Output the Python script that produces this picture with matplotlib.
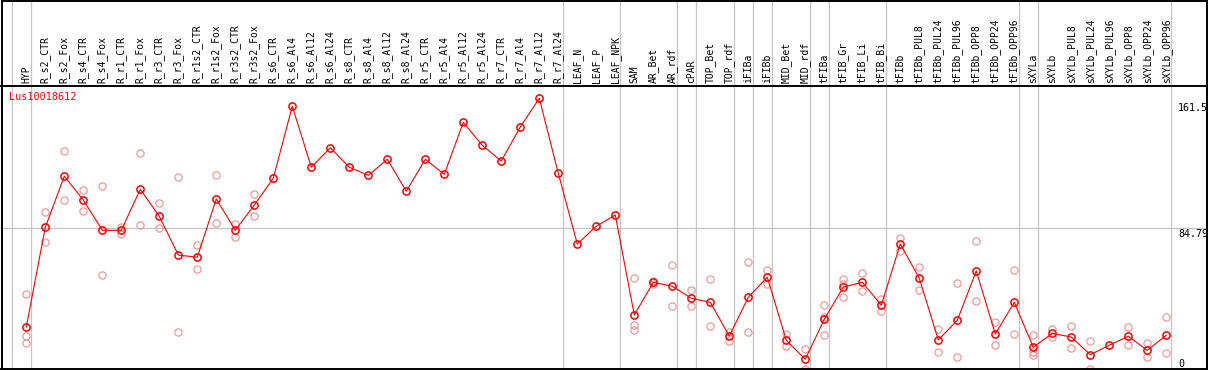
import matplotlib
matplotlib.use("Agg")
import matplotlib.pyplot as plt
from matplotlib.lines import Line2D

gene = "Lus10018612"

samples = ["HYP", "R_s2_CTR", "R_s2_Fox", "R_s4_CTR", "R_s4_Fox", "R_r1_CTR", "R_r1_Fox",
           "R_r3_CTR", "R_r3_Fox", "R_r1s2_CTR", "R_r1s2_Fox", "R_r3s2_CTR", "R_r3s2_Fox",
           "R_s6_CTR", "R_s6_Al4", "R_s6_Al12", "R_s6_Al24", "R_s8_CTR", "R_s8_Al4",
           "R_s8_Al12", "R_s8_Al24", "R_r5_CTR", "R_r5_Al4", "R_r5_Al12", "R_r5_Al24",
           "R_r7_CTR", "R_r7_Al4", "R_r7_Al12", "R_r7_Al24", "LEAF_N", "LEAF_P", "LEAF_NPK",
           "SAM", "AR_Bet", "AR_rdf", "cPAR", "TOP_Bet", "TOP_rdf", "iFIBa", "iFIBb",
           "MID_Bet", "MID_rdf", "tFIBa", "tFIB_Gr", "tFIB_Li", "tFIB_Bi", "tFIBb",
           "tFIBb_PUL8", "tFIBb_PUL24", "tFIBb_PUL96", "tFIBb_OPP8", "tFIBb_OPP24",
           "tFIBb_OPP96", "sXYLa", "sXYLb", "sXYLb_PUL8", "sXYLb_PUL24", "sXYLb_PUL96",
           "sXYLb_OPP8", "sXYLb_OPP24", "sXYLb_OPP96"]

means = [26.5, 85.4, 115.5, 101.5, 83.6, 83.6, 107.8, 91.9, 69.0, 67.7, 102.1, 83.6, 98.5,
         114.3, 156.8, 120.8, 132.3, 120.8, 116.0, 125.5, 106.6, 125.5, 116.6, 147.3, 133.7,
         124.5, 144.5, 161.5, 117.2, 75.5, 86.0, 92.6,
         33.6, 52.9, 50.6, 43.5, 41.1, 21.2, 44.1, 55.9, 18.7, 7.5, 31.1, 50.1, 52.9, 39.4,
         75.5, 55.3, 18.9, 30.5, 59.6, 22.4, 41.1, 14.6, 22.8, 20.6, 10.2, 15.8, 21.1, 12.8,
         21.7]

replicates = [[45.8, 21.4, 16.9], [94.2, 76.9], [130.2, 101.3], [107.2, 94.8], [109.6, 57.1],
              [85.7, 81.4], [129.0, 86.5], [99.5, 84.8], [114.9, 23.4], [74.7, 60.6],
              [116.0, 87.7], [87.1, 79.8], [104.8, 91.9],
              [], [], [], [], [], [], [], [], [], [], [], [], [], [], [], [], [], [], [],
              [55.3, 27.7, 24.8], [53.7, 51.9], [62.9, 38.8], [48.2, 38.8], [54.7, 27.0],
              [23.8, 18.5], [64.7, 23.4], [60.0, 51.7], [22.4, 15.2], [13.4, 1.5],
              [39.4, 32.6, 21.8], [54.7, 52.1, 44.1], [58.2, 48.0], [43.1, 35.8],
              [78.9, 71.6], [61.8, 48.2], [25.2, 12.0], [52.3, 8.7], [77.1, 41.9],
              [29.3, 15.8], [60.0, 22.4], [21.8, 11.6, 10.0], [25.4, 20.8], [27.1, 14.0],
              [18.1, 1.5], [], [26.5, 15.8], [16.9, 8.7], [32.3, 11.0]]

# index of the last sample in each group (-1 = line before the first one)
group_ends = [-1, 0, 28, 31, 34, 35, 37, 38, 39, 41, 42, 45, 52, 53, 60]
scale_values = [161.5, 84.79, 0]
scale_texts = ["161.5", "84.79", "0"]

W, H = 1209, 370
fig = plt.figure(figsize=(W / 100, H / 100), dpi=100)
ax_top, ax_bot, ax_left, ax_right = 85.7, 369.3, 1.5, 1206.5
ax = fig.add_axes([ax_left / W, (H - ax_bot) / H, (ax_right - ax_left) / W, (ax_bot - ax_top) / H])

x = list(range(len(samples)))
ax.set_xlim((ax_left - 26.3) / 19, (ax_right - 26.3) / 19)
ax.set_ylim((372 - ax_bot) / 1.695, (372 - ax_top) / 1.695)
ax.set_xticks([])
ax.set_yticks([])
for s in ax.spines.values():
    s.set_linewidth(1.4)
    s.set_color("black")

grey = "#c4c4c4"
ext = 1 + ax_top / (ax_bot - ax_top)
for e in group_ends:
    ax.axvline(e + 0.23, 0, ext, color=grey, lw=0.9, clip_on=False, zorder=1)
ax.axhline(84.79, color=grey, lw=0.9, zorder=1)

# replicate values
rx, ry = [], []
for i, reps in enumerate(replicates):
    for v in reps:
        rx.append(i)
        ry.append(v)
ax.plot(rx, ry, ls="none", marker="o", ms=5.2, mfc="none", mec="#ef9a9a", mew=0.9, zorder=2)

# mean values
ax.plot(x, means, color="red", lw=0.8, marker="o", ms=5.2, mfc="none", mec="red", mew=1.1, zorder=3)

mono = "DejaVu Sans Mono"
for i, name in enumerate(samples):
    ax.annotate(name, xy=(i, 1), xycoords=("data", "axes fraction"), xytext=(0, 1.6),
                textcoords="offset points", rotation=90, ha="center", va="bottom",
                fontsize=7, family=mono, annotation_clip=False)

fig.text(9.0 / W, 1 - 92.0 / H, gene, color="red", fontsize=7.3, family=mono, va="top", ha="left")

offsets = [-3.4, -0.4, 9.6]
for v, t, off in zip(scale_values, scale_texts, offsets):
    ax.annotate(t, xy=((1178 - 26.3) / 19, v), xytext=(0, off), textcoords="offset points",
                ha="left", va="top", fontsize=7.2, family=mono, annotation_clip=False)

# frame of the label band above the axes
for xs, ys in [([ax_left / W, ax_left / W], [0, 1]),
               ([ax_right / W, ax_right / W], [0, 1]),
               ([ax_left / W, ax_right / W], [0.998, 0.998])]:
    fig.add_artist(Line2D(xs, ys, transform=fig.transFigure, color="black", lw=1.4))

fig.savefig("out.png", dpi=100)
